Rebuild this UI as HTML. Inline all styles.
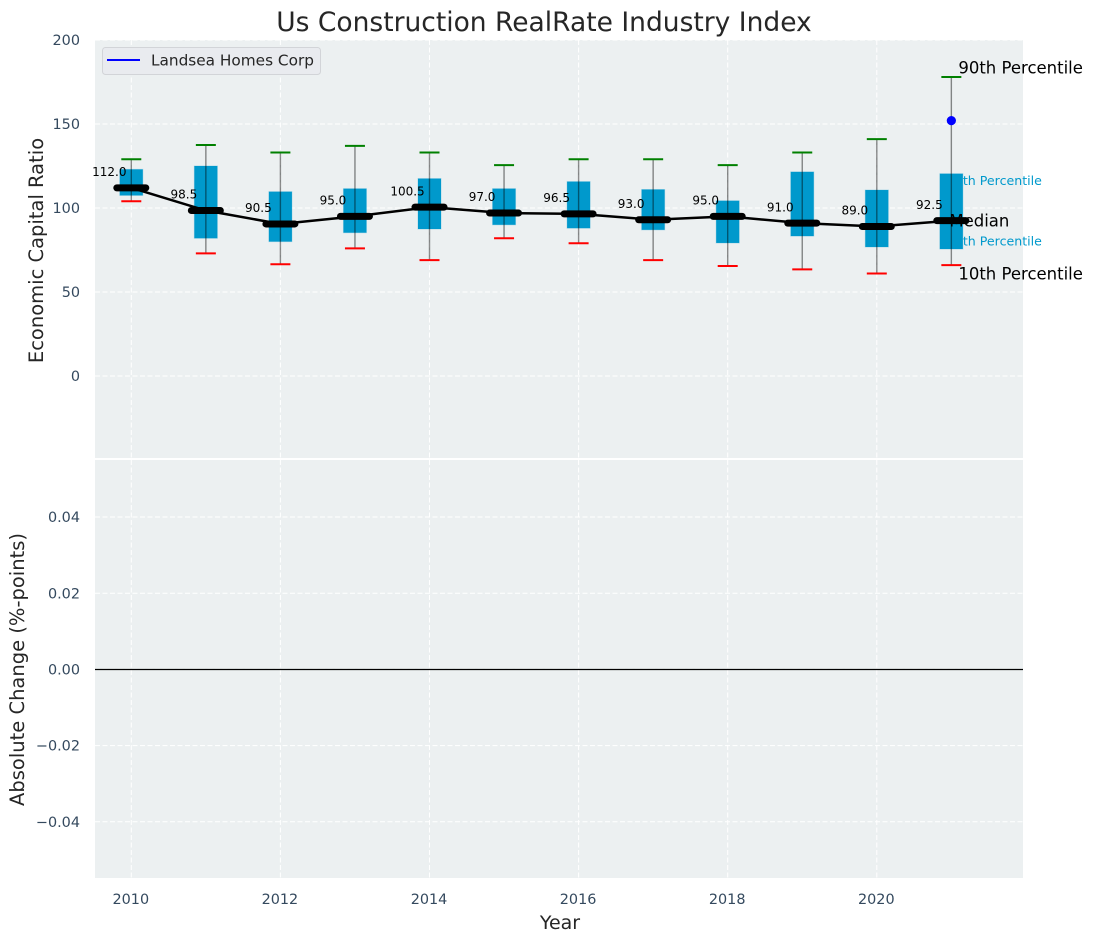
<!DOCTYPE html>
<html lang="en">
<head>
<meta charset="utf-8">
<title>Us Construction RealRate Industry Index</title>
<style>
html,body{margin:0;padding:0;background:#fff;width:1093px;height:942px;overflow:hidden}
svg{display:block}
text{font-family:"DejaVu Sans","Liberation Sans",sans-serif}
</style>
</head>
<body>
<svg id="chart" xmlns="http://www.w3.org/2000/svg" width="1093" height="942" viewBox="0 0 1093 942"></svg>
<script>
const years = [2010, 2011, 2012, 2013, 2014, 2015, 2016, 2017, 2018, 2019, 2020, 2021];
const medians = [112, 98.5, 90.5, 95, 100.5, 97, 96.5, 93, 95, 91, 89, 92.5];
const p90 = [129, 137.5, 133, 137, 133, 125.5, 129, 129, 125.5, 133, 141, 178];
const p10 = [104, 73, 66.5, 76, 69, 82, 79, 69, 65.5, 63.5, 61, 66];
const p75 = [123, 125, 109.7, 111.5, 117.5, 111.5, 115.7, 111, 104.3, 121.5, 110.7, 120.4];
const p25 = [107.5, 82, 80, 85.3, 87.5, 90, 88, 87, 79.2, 83.3, 76.8, 75.6];
const medianLabels = ["112.0", "98.5", "90.5", "95.0", "100.5", "97.0", "96.5", "93.0", "95.0", "91.0", "89.0", "92.5"];
const companyYear = [2021];
const companyValue = [152];
const xTicks = [2010, 2012, 2014, 2016, 2018, 2020];
const topTicks = [0, 50, 100, 150, 200];
const bottomTicks = [-0.04, -0.02, 0, 0.02, 0.04];
const bottomTickLabels = ["\u22120.04", "\u22120.02", "0.00", "0.02", "0.04"];

const NS = "http://www.w3.org/2000/svg";
const svg = document.getElementById("chart");
const plotLeft = 95, plotRight = 1023, topStart = 40, topEnd = 458, botStart = 460, botEnd = 878;
function xScale(year) { return 131.3 + 74.55 * (year - 2010); }
function yTop(v) { return 376 - 1.68 * v; }
function yBottom(v) { return 669 - 3810 * v; }

function make(tag, attrs, text) {
  const el = document.createElementNS(NS, tag);
  for (const k in attrs) el.setAttribute(k, attrs[k]);
  if (text !== undefined) el.textContent = text;
  svg.appendChild(el);
  return el;
}
function line(x1, y1, x2, y2, stroke, width, extra) {
  return make("line", Object.assign({ x1: x1, y1: y1, x2: x2, y2: y2, stroke: stroke, "stroke-width": width }, extra || {}));
}
let el;

el = make("rect", { x: plotLeft, y: topStart, width: plotRight - plotLeft, height: topEnd - topStart, fill: "#ecf0f1" });


el = make("rect", { x: plotLeft, y: botStart, width: plotRight - plotLeft, height: botEnd - botStart, fill: "#ecf0f1" });



const gridDash = { "stroke-dasharray": "5 2.5" };
xTicks.forEach(function (t) {
  el = line(xScale(t), topStart, xScale(t), topEnd, "#ffffff", 1, gridDash);
  
  
  el = line(xScale(t), botStart, xScale(t), botEnd, "#ffffff", 1, gridDash);
  
  
  el = make("text", { x: xScale(t) - 0.5, y: 904, "text-anchor": "middle", "font-size": 14.4, fill: "#34495e" }, String(t));
  
  
});
topTicks.forEach(function (t) {
  el = line(plotLeft, yTop(t), plotRight, yTop(t), "#ffffff", 1, gridDash);
  
  
  el = make("text", { x: 80, y: yTop(t) + 5, "text-anchor": "end", "font-size": 14.4, fill: "#34495e" }, String(t));
  
  
});
bottomTicks.forEach(function (t, i) {
  el = line(plotLeft, yBottom(t) + 0.4, plotRight, yBottom(t) + 0.4, "#ffffff", 1, gridDash);
  
  
  el = make("text", { x: 80, y: yBottom(t) + 5.5, "text-anchor": "end", "font-size": 14.4, fill: "#34495e" }, bottomTickLabels[i]);
  
  
});

el = line(plotLeft, yBottom(0) + 0.5, plotRight, yBottom(0) + 0.5, "#000000", 1.2);



const last = years.length - 1;
const xLast = xScale(years[last]);
el = make("text", { x: xLast + 7, y: yTop(p90[last]) - 3.5, "font-size": 16.5, fill: "#000" }, "90th Percentile");


el = make("text", { x: xLast - 4.5, y: yTop(p75[last]) + 11.5, "font-size": 12.6, fill: "#0099cc" }, "75th Percentile");


el = make("text", { x: xLast - 4.5, y: yTop(p25[last]) - 3.5, "font-size": 12.6, fill: "#0099cc" }, "25th Percentile");


el = make("text", { x: xLast + 7, y: yTop(p10[last]) + 14.5, "font-size": 16.5, fill: "#000" }, "10th Percentile");



years.forEach(function (yr, i) {
  const cx = xScale(yr);
  el = make("rect", { x: cx - 11.5, y: yTop(p75[i]), width: 23, height: yTop(p25[i]) - yTop(p75[i]), fill: "#0099cc", stroke: "rgba(0,153,204,0.25)", "stroke-width": 1 });
  
  
  el = line(cx, yTop(p90[i]), cx, yTop(p10[i]), "rgba(0,0,0,0.45)", 1.4);
  
  
  el = line(cx - 10, yTop(p90[i]), cx + 10, yTop(p90[i]), "#008000", 2);
  
  
  el = line(cx - 10, yTop(p10[i]), cx + 10, yTop(p10[i]), "#ff0000", 2);
  
  
});

el = make("polyline", {
  points: years.map(function (yr, i) { return xScale(yr) + "," + yTop(medians[i]); }).join(" "),
  fill: "none", stroke: "#000", "stroke-width": 2.5
});



years.forEach(function (yr, i) {
  const cx = xScale(yr), cy = yTop(medians[i]);
  el = line(cx - 14.5, cy, cx + 14.5, cy, "#000", 7, { "stroke-linecap": "round" });
  
  
  el = make("text", { x: cx - 22, y: cy - 11.8, "text-anchor": "middle", "font-size": 12, fill: "#000" }, medianLabels[i]);
  
  
});

el = make("text", { x: xLast - 2, y: yTop(medians[last]) + 6, "font-size": 16.5, fill: "#000" }, "Median");



companyYear.forEach(function (yr, i) {
  el = make("circle", { cx: xScale(yr), cy: yTop(companyValue[i]), r: 4.6, fill: "#0000ff" });
  
  
});

el = make("rect", { x: 102.5, y: 47.5, width: 218, height: 27, rx: 3, fill: "#e9ebef", stroke: "#d2d4d8", "stroke-width": 1 });


el = line(107, 60, 140, 60, "#0000ff", 2);


el = make("text", { x: 151, y: 65.5, "font-size": 15.3, fill: "#262626" }, "Landsea Homes Corp");



el = make("text", { x: 544, y: 31, "text-anchor": "middle", "font-size": 26.5, fill: "#262626" }, "Us Construction RealRate Industry Index");


el = make("text", { x: 560, y: 929, "text-anchor": "middle", "font-size": 19, fill: "#262626" }, "Year");


el = make("text", { transform: "translate(43,250.5) rotate(-90)", "text-anchor": "middle", "font-size": 19.5, fill: "#262626" }, "Economic Capital Ratio");


el = make("text", { transform: "translate(24,669.5) rotate(-90)", "text-anchor": "middle", "font-size": 19.5, fill: "#262626" }, "Absolute Change (%-points)");


</script>
</body>
</html>
